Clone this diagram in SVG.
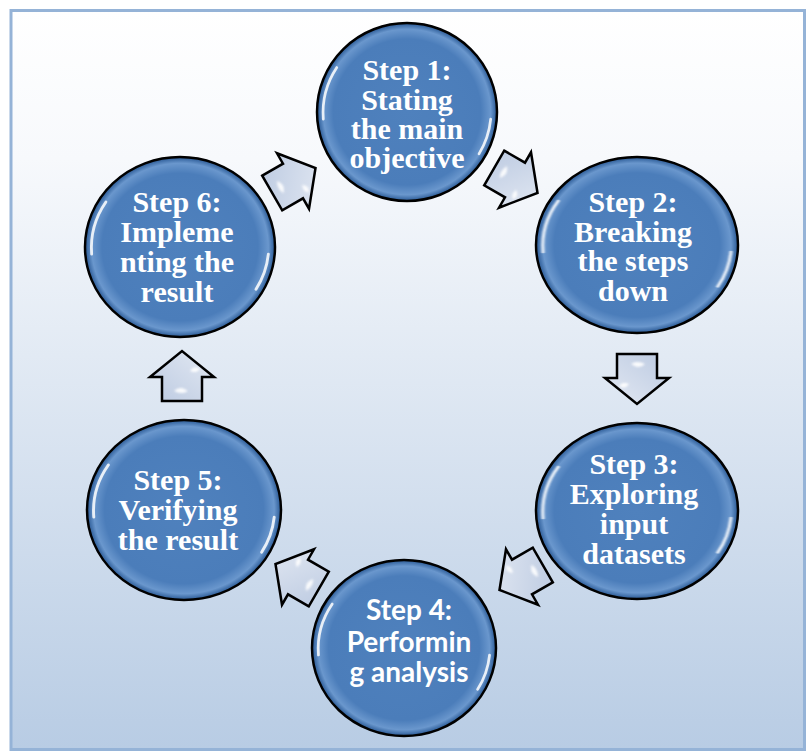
<svg xmlns="http://www.w3.org/2000/svg" xmlns:xlink="http://www.w3.org/1999/xlink" width="807" height="751" viewBox="0 0 807 751">
  <style>
    .serif { font-family: "Liberation Serif", "Times New Roman", serif; font-weight: bold; font-size: 30px; fill: #ffffff; text-anchor: middle; }
    .sans { font-family: Lato, "Open Sans", "Liberation Sans", sans-serif; font-weight: bold; font-size: 28px; fill: #ffffff; text-anchor: middle; }
    .rim { fill: url(#discFill); stroke: #000000; stroke-width: 2.5; }
    .glint { fill: none; stroke: #ffffff; stroke-width: 3; stroke-linecap: round; opacity: 0.85; filter: url(#soft); }
    .arrow { fill: url(#arrowFill); stroke: #000000; stroke-width: 2.5; stroke-linejoin: miter; }
    .shine { fill: #ffffff; opacity: 0.9; filter: url(#soft); }
  </style>
  <defs>
    <linearGradient id="bg" x1="0" y1="0" x2="0" y2="1">
      <stop offset="0" stop-color="#ffffff"/>
      <stop offset="0.2" stop-color="#f7f9fc"/>
      <stop offset="1" stop-color="#b8cce4"/>
    </linearGradient>
    <radialGradient id="discFill" cx="0.5" cy="0.5" r="0.5">
      <stop offset="0" stop-color="#4f81bd"/>
      <stop offset="0.82" stop-color="#4b7dba"/>
      <stop offset="0.93" stop-color="#6a97cd"/>
      <stop offset="0.975" stop-color="#3f6ea8"/>
      <stop offset="1" stop-color="#2f5c96"/>
    </radialGradient>
    <linearGradient id="arrowFill" x1="0" y1="0" x2="1" y2="1">
      <stop offset="0" stop-color="#bccae1"/>
      <stop offset="1" stop-color="#e3e9f3"/>
    </linearGradient>
    <filter id="soft" x="-50%" y="-50%" width="200%" height="200%">
      <feGaussianBlur stdDeviation="0.8"/>
    </filter>
    <!-- unit disc, scaled per node -->
    <g id="disc">
      <circle r="100" class="rim" vector-effect="non-scaling-stroke"/>
      <path class="glint" d="M -93 8 A 93 93 0 0 1 -78 -50"/>
      <path class="glint" d="M 93 8 A 93 93 0 0 1 80 47"/>
    </g>
    <!-- block arrow pointing along +x -->
    <g id="blockArrow">
      <path class="arrow" d="M -24 -20 L 0 -20 L 0 -32 L 26 0 L 0 32 L 0 20 L -24 20 Z"/>
      <path class="shine" d="M -14 -8 Q -8 -2 -14 6 Q -18 0 -14 -8 Z"/>
      <path class="shine" d="M 6 8 Q 12 12 8 18 Q 3 14 6 8 Z"/>
    </g>
  </defs>

  <!-- frame -->
  <rect x="11" y="10.5" width="793.5" height="739" fill="url(#bg)" stroke="#95b3d7" stroke-width="3"/>

  <g id="connectors">
    <use xlink:href="#blockArrow" transform="translate(515,180) rotate(30)"/>
    <use xlink:href="#blockArrow" transform="translate(637,378) rotate(90)"/>
    <use xlink:href="#blockArrow" transform="translate(522,577) rotate(150)"/>
    <use xlink:href="#blockArrow" transform="translate(298,577) rotate(210)"/>
    <use xlink:href="#blockArrow" transform="translate(182,377) rotate(270)"/>
    <use xlink:href="#blockArrow" transform="translate(293,181) rotate(330)"/>
  </g>

  <g id="step1">
    <use xlink:href="#disc" transform="translate(407,112) scale(0.9,0.89)"/>
    <text class="serif" x="407" y="80">Step 1:</text>
    <text class="serif" x="407" y="110">Stating</text>
    <text class="serif" x="407" y="139">the main</text>
    <text class="serif" x="407" y="168">objective</text>
  </g>

  <g id="step2">
    <use xlink:href="#disc" transform="translate(637,245) scale(1.01,0.88)"/>
    <text class="serif" x="633" y="212">Step 2:</text>
    <text class="serif" x="633" y="242">Breaking</text>
    <text class="serif" x="633" y="271">the steps</text>
    <text class="serif" x="633" y="301">down</text>
  </g>

  <g id="step3">
    <use xlink:href="#disc" transform="translate(637,511) scale(1.01,0.88)"/>
    <text class="serif" x="634" y="474">Step 3:</text>
    <text class="serif" x="634" y="504">Exploring</text>
    <text class="serif" x="634" y="534">input</text>
    <text class="serif" x="634" y="564">datasets</text>
  </g>

  <g id="step4">
    <use xlink:href="#disc" transform="translate(404,648) scale(0.92,0.88)"/>
    <text class="sans" x="409" y="620">Step 4:</text>
    <text class="sans" x="409" y="652">Performin</text>
    <text class="sans" x="409" y="682">g analysis</text>
  </g>

  <g id="step5">
    <use xlink:href="#disc" transform="translate(184,510) scale(0.97,0.9)"/>
    <text class="serif" x="178" y="490">Step 5:</text>
    <text class="serif" x="178" y="520">Verifying</text>
    <text class="serif" x="178" y="550">the result</text>
  </g>

  <g id="step6">
    <use xlink:href="#disc" transform="translate(180,247) scale(0.95,0.9)"/>
    <text class="serif" x="177" y="212">Step 6:</text>
    <text class="serif" x="177" y="242">Impleme</text>
    <text class="serif" x="177" y="272">nting the</text>
    <text class="serif" x="177" y="302">result</text>
  </g>
</svg>
